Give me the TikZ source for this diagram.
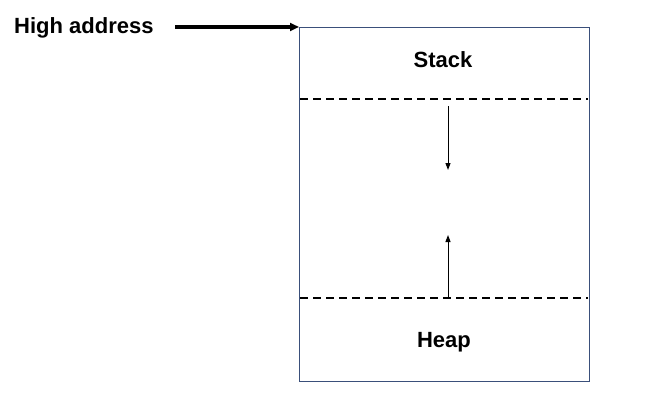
\documentclass[tikz,border=0pt]{standalone}
\usepackage{fontspec}
\setmainfont{Liberation Sans}
\usetikzlibrary{arrows.meta}
\definecolor{boxline}{HTML}{3A4F7A}
\tikzset{
  lbl/.style={font=\bfseries\fontsize{22}{26}\selectfont, inner sep=0pt},
  divider/.style={line width=2pt, dash pattern=on 8pt off 5pt},
  growarrow/.style={line width=1pt, -{Triangle[length=7pt,width=5pt]}},
}
\begin{document}
\begin{tikzpicture}[x=1pt,y=-1pt]
\useasboundingbox (0,0) rectangle (661,412);
\draw[boxline, line width=0.9pt] (299,27) rectangle (589,381);
\coordinate (tl) at (299,27);
\node[lbl, anchor=base west] (high) at (14,34) {High address};
\coordinate (astart) at (175,27);
\draw[line width=3.2pt, -{Triangle[length=9pt,width=8pt]}] (astart) -- (tl);
\node[lbl, anchor=base] (stack) at (443,67) {Stack};
\node[lbl, anchor=base] (heap) at (444,347) {Heap};
\coordinate (d1l) at (300,99);
\coordinate (d1r) at (588,99);
\coordinate (d2l) at (300,298);
\coordinate (d2r) at (588,298);
\draw[divider] (d1l) -- (d1r);
\draw[divider] (d2l) -- (d2r);
\coordinate (a1s) at (448,106);
\coordinate (a1e) at (448,170);
\coordinate (a2s) at (448,298);
\coordinate (a2e) at (448,235);
\draw[growarrow] (a1s) -- (a1e);
\draw[growarrow] (a2s) -- (a2e);
\end{tikzpicture}
\end{document}
